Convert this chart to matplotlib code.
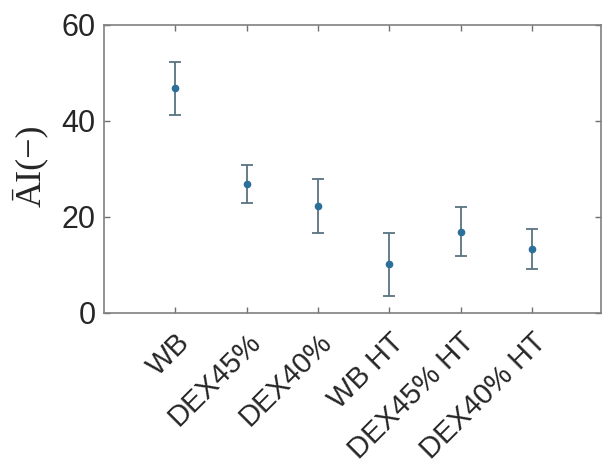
import matplotlib
matplotlib.use('Agg')
import matplotlib.pyplot as plt
import numpy as np

# Data
groups = ['WB', 'DEX45%', 'DEX40%', 'WB HT', 'DEX45% HT', 'DEX40% HT']
means = [46.8, 26.9, 22.3, 10.2, 16.9, 13.3]
upper = [52.2, 30.8, 27.9, 16.7, 22.1, 17.5]
lower = [41.3, 23.0, 16.6, 3.6, 11.9, 9.1]

x = np.arange(1, len(groups) + 1)
err = [np.subtract(means, lower), np.subtract(upper, means)]

fig = plt.figure(figsize=(6.03, 4.74), dpi=100)
ax = fig.add_axes([0.1725, 0.3397, 0.8242, 0.6076])

ax.errorbar(x, means, yerr=err, fmt='.', color='#2c6f98', markersize=9,
            ecolor='#587480', elinewidth=1.3, capsize=4.5, capthick=1.3)

ax.set_xlim(0, 6.97)
ax.set_ylim(0, 60)
ax.set_yticks([0, 20, 40, 60])
ax.set_xticks(x)
ax.set_xticklabels(groups, rotation=45, ha='right', va='top',
                   rotation_mode='anchor', fontsize=21,
                   family='Liberation Sans', color='#262626')
for lbl in ax.get_yticklabels():
    lbl.set_fontsize(22)
    lbl.set_family('Liberation Sans')
    lbl.set_color('#262626')

ax.tick_params(direction='in', top=True, right=True, length=4,
               color='#707070', width=1)
ax.tick_params(axis='x', pad=11)
ax.tick_params(axis='y', pad=6)
for s in ax.spines.values():
    s.set_color('#808080')
    s.set_linewidth(1.2)

ax.set_ylabel('ĀI(−)', fontsize=26, family='Liberation Serif', color='#262626')
ax.yaxis.set_label_coords(-0.112, 0.51)

fig.savefig('out.png', dpi=100, facecolor='white')
